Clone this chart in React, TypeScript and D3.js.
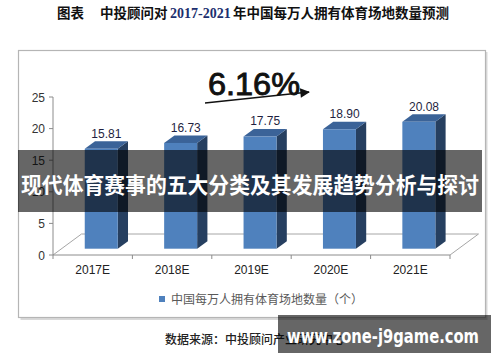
import React from 'react';
import * as d3 from 'd3';

const categories = ['2017E', '2018E', '2019E', '2020E', '2021E'];
const values = [15.81, 16.73, 17.75, 18.9, 20.08];
const yTicks = [0, 5, 10, 15, 20, 25];
const growthLabel = '6.16%';
const seriesName = '中国每万人拥有体育场地数量（个）';
const titleParts = ['图表', '中投顾问对', '2017-2021', '年中国每万人拥有体育场地数量预测'];
const sourceText = '数据来源：中投顾问产业研究中心';
const bannerText = '现代体育赛事的五大分类及其发展趋势分析与探讨';
const siteText = 'www.zone-j9game.com';

const W = 500;
const H = 362;
const num = '"Liberation Sans", Arial, sans-serif';
const cjk = '"Noto Sans CJK SC", sans-serif';

export default function App() {
  // plot geometry (front floor edge + depth vector for the 3d look)
  const x = d3.scaleBand().domain(categories).range([53, 450]);
  const y = d3.scaleLinear().domain([0, 25]).range([255, 97]);
  const depth = { dx: 28.5, dy: -21 };
  const f0 = 0.3;
  const f1 = 0.66;
  const barW = 33;

  const floorFront = y(0);
  const left = x.range()[0];
  const right = x.range()[1];

  const bars = categories.map((c, i) => {
    const cx = (x(c) as number) + x.bandwidth() / 2 + depth.dx * f0;
    const xl = cx - barW / 2;
    const xr = cx + barW / 2;
    const yb = y(0) + depth.dy * f0;
    const yt = y(values[i]) + depth.dy * f0;
    const ddx = depth.dx * (f1 - f0);
    const ddy = depth.dy * (f1 - f0);
    return { c, v: values[i], xl, xr, yb, yt, ddx, ddy };
  });

  const pts = (arr: number[][]) => arr.map((p) => p.join(',')).join(' ');

  return (
    <svg width={W} height={H} style={{ position: 'absolute', left: 0, top: 0, background: '#fff' }}>
      <defs>
        <marker id="arr" viewBox="0 0 10 10" refX="9" refY="5" markerWidth="7" markerHeight="6" orient="auto">
          <path d="M0,0 L10,5 L0,10 Z" fill="#111" />
        </marker>
      </defs>
      <rect width={W} height={H} fill="#fff" />

      {/* title */}
      <text y={18} fontFamily={cjk} fontWeight="bold" fontSize={13.5} fill="#111">
        <tspan x={57}>{titleParts[0]}</tspan>
        <tspan x={100}>{titleParts[1]}</tspan>
        <tspan x={170} fontFamily='"Liberation Serif", serif' fill="#1c2f6e" fontSize={14}>{titleParts[2]}</tspan>
        <tspan x={233}>{titleParts[3]}</tspan>
      </text>

      {/* chart frame with shadow */}
      <rect x={20.5} y={52} width={467} height={268} fill="#d9d9d9" />
      <rect x={18.5} y={50.5} width={467} height={267} fill="#fff" stroke="#b5b5b5" strokeWidth={1.2} />

      {/* floor */}
      <g stroke="#a6a6a6" strokeWidth={1} fill="none">
        <line x1={left} y1={floorFront} x2={left + depth.dx} y2={floorFront + depth.dy} />
        <line x1={left + depth.dx} y1={floorFront + depth.dy} x2={right + depth.dx} y2={floorFront + depth.dy} />
        <line x1={right} y1={floorFront} x2={right + depth.dx} y2={floorFront + depth.dy} />
        <line x1={left} y1={floorFront} x2={right} y2={floorFront} stroke="#8c8c8c" />
      </g>

      {/* x ticks */}
      {[...categories.map((c) => x(c) as number), right].map((t, i) => (
        <line key={i} x1={t} x2={t} y1={floorFront} y2={floorFront + 4} stroke="#8c8c8c" />
      ))}

      {/* y axis */}
      <line x1={left} x2={left} y1={y(0)} y2={y(25)} stroke="#8c8c8c" />
      {yTicks.map((t) => (
        <g key={t}>
          <line x1={left - 4} x2={left} y1={y(t)} y2={y(t)} stroke="#8c8c8c" />
          <text x={45} y={y(t) + 4.5} textAnchor="end" fontFamily={num} fontSize={12} fill="#333">
            {t}
          </text>
        </g>
      ))}

      {/* bars */}
      {bars.map((b) => (
        <g key={b.c}>
          <polygon
            points={pts([
              [b.xr, b.yt],
              [b.xr + b.ddx, b.yt + b.ddy],
              [b.xr + b.ddx, b.yb + b.ddy],
              [b.xr, b.yb],
            ])}
            fill="#263f60"
          />
          <polygon
            points={pts([
              [b.xl, b.yt],
              [b.xr, b.yt],
              [b.xr + b.ddx, b.yt + b.ddy],
              [b.xl + b.ddx, b.yt + b.ddy],
            ])}
            fill="#3b6398"
          />
          <rect x={b.xl} y={b.yt} width={b.xr - b.xl} height={b.yb - b.yt} fill="#4f81bd" />
          <text
            x={(b.xl + b.xr + b.ddx) / 2}
            y={b.yt + b.ddy - 3.5}
            textAnchor="middle"
            fontFamily={num}
            fontSize={12}
            fill="#1f1f3f"
          >
            {b.v.toFixed(2)}
          </text>
        </g>
      ))}

      {/* x labels */}
      {categories.map((c) => (
        <text
          key={c}
          x={(x(c) as number) + x.bandwidth() / 2}
          y={floorFront + 18.5}
          textAnchor="middle"
          fontFamily={num}
          fontSize={12}
          fill="#222"
        >
          {c}
        </text>
      ))}

      {/* growth annotation */}
      <text
        x={208}
        y={95}
        fontFamily={num}
        fontSize={31}
        fill="#111"
        stroke="#111"
        strokeWidth={0.9}
        textLength={92}
        lengthAdjust="spacingAndGlyphs"
      >
        {growthLabel}
      </text>
      <line x1={205} y1={103} x2={309} y2={92} stroke="#111" strokeWidth={1.6} markerEnd="url(#arr)" />

      {/* legend */}
      <rect x={159} y={296} width={6} height={6} fill="#4f81bd" />
      <text x={171} y={303.5} fontFamily={cjk} fontSize={12} fill="#595959">
        {seriesName}
      </text>

      {/* source */}
      <text x={165} y={343.5} fontFamily={cjk} fontSize={12} fontWeight={500} fill="#222">
        {sourceText}
      </text>

      {/* overlay banners */}
      <rect x={18} y={150} width={464} height={62} fill="rgba(0,0,0,0.6)" />
      <text
        x={250}
        y={193}
        textAnchor="middle"
        fontFamily={cjk}
        fontWeight="bold"
        fontSize={21.5}
        fill="#fff"
        textLength={458}
        lengthAdjust="spacingAndGlyphs"
      >
        {bannerText}
      </text>
      <rect x={278} y={315} width={213} height={38} fill="rgba(0,0,0,0.6)" />
      <text
        x={287}
        y={343}
        fontFamily='"DejaVu Sans", sans-serif'
        fontWeight="bold"
        fontSize={19}
        fill="#fff"
        textLength={192}
        lengthAdjust="spacingAndGlyphs"
      >
        {siteText}
      </text>
    </svg>
  );
}
